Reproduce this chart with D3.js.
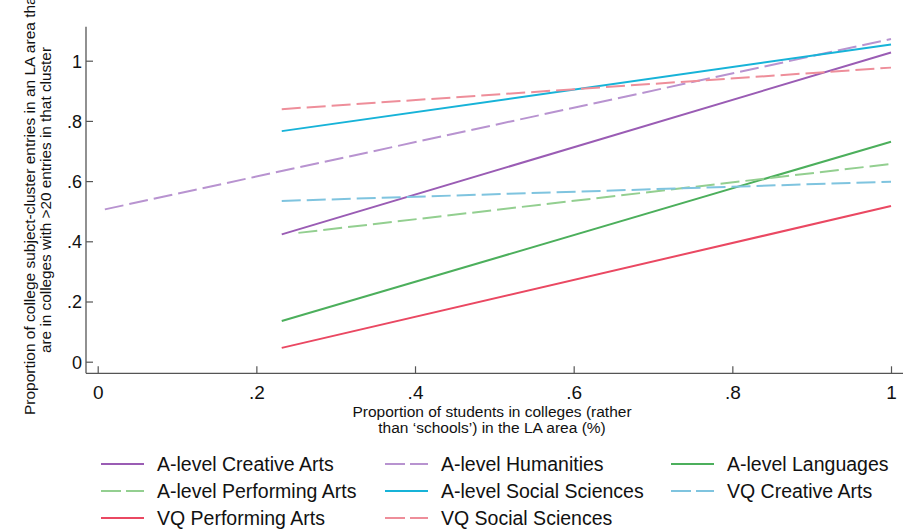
<!DOCTYPE html>
<html>
<head>
<meta charset="utf-8">
<script src="https://cdn.jsdelivr.net/npm/d3@7"></script>
<style>
  html, body { margin: 0; padding: 0; background: #fff; }
  svg { display: block; font-family: "Liberation Sans", Arial, sans-serif; }
</style>
</head>
<body>
<svg id="chart" width="914" height="531"></svg>
<script>
// Fitted lines: share of college subject-cluster entries by college share of students
const seriesNames = [
  "A-level Creative Arts", "A-level Humanities", "A-level Languages",
  "A-level Performing Arts", "A-level Social Sciences", "VQ Creative Arts",
  "VQ Performing Arts", "VQ Social Sciences"
];
const xStart = [0.232, 0.009, 0.232, 0.253, 0.232, 0.232, 0.232, 0.232];
const xEnd   = [1.0, 1.0, 1.0, 1.0, 1.0, 1.0, 1.0, 1.0];
const yStart = [0.423, 0.506, 0.135, 0.428, 0.766, 0.534, 0.046, 0.839];
const yEnd   = [1.027, 1.072, 0.731, 0.657, 1.054, 0.598, 0.517, 0.977];
const dashed = [false, true, false, true, false, true, false, true];
const colors = ["#9a5cb4", "#b893d0", "#4caf5c", "#93cf90", "#17b3d8", "#7fc4df", "#ea4862", "#ee8e9a"];

const xTicks = [0, 0.2, 0.4, 0.6, 0.8, 1];
const yTicks = [0, 0.2, 0.4, 0.6, 0.8, 1];
const tickFmt = v => v === 0 ? "0" : v === 1 ? "1" : String(v).replace(/^0/, "");

const svg = d3.select("#chart");

const x = d3.scaleLinear().domain([0, 1]).range([97.7, 891]);
const y = d3.scaleLinear().domain([0, 1]).range([361.7, 60.7]);

const axisColor = "#555";
const axLeft = 86, axBottom = 373.3, axRight = 903, axTop = 26.7;

// Axes with inward ticks
const xAxis = svg.append("g").attr("transform", `translate(0,${axBottom})`)
  .call(d3.axisBottom(x).tickValues(xTicks).tickFormat(tickFmt).tickSizeInner(-7).tickSizeOuter(0).tickPadding(12));
xAxis.select(".domain").remove();
xAxis.append("line").attr("x1", axLeft).attr("x2", axRight).attr("y1", 0).attr("y2", 0)
  .attr("stroke", axisColor).attr("stroke-width", 1.3);

const yAxis = svg.append("g").attr("transform", `translate(${axLeft},0)`)
  .call(d3.axisLeft(y).tickValues(yTicks).tickFormat(tickFmt).tickSizeInner(-7).tickSizeOuter(0).tickPadding(4));
yAxis.select(".domain").remove();
yAxis.append("line").attr("x1", 0).attr("x2", 0).attr("y1", axTop).attr("y2", axBottom)
  .attr("stroke", axisColor).attr("stroke-width", 1.3);

svg.selectAll(".tick line").attr("stroke", axisColor).attr("stroke-width", 1.2);
svg.selectAll(".tick text").attr("fill", "#111")
  .style("font-family", "'Liberation Sans', Arial, sans-serif");
xAxis.selectAll(".tick text").style("font-size", "19px");
yAxis.selectAll(".tick text").style("font-size", "18px").attr("dy", "0.36em");

// Fitted lines
const lineGen = d3.line().x(d => x(d[0])).y(d => y(d[1]));
const lines = seriesNames.map((name, i) => ({
  name, color: colors[i], dashed: dashed[i],
  pts: [[xStart[i], yStart[i]], [xEnd[i], yEnd[i]]]
}));
svg.append("g").selectAll("path").data(lines).join("path")
  .attr("d", d => lineGen(d.pts))
  .attr("fill", "none")
  .attr("stroke", d => d.color)
  .attr("stroke-width", 2)
  .attr("stroke-dasharray", d => d.dashed ? "19,6" : null);

// Axis titles (first y-title line runs past the top edge)
const yTitle = svg.append("text")
  .attr("transform", "rotate(-90)")
  .attr("text-anchor", "start")
  .attr("fill", "#111")
  .style("font-size", "15.5px");
yTitle.append("tspan").attr("x", -415).attr("y", 35)
  .text("Proportion of college subject-cluster entries in an LA area that");
yTitle.append("tspan").attr("x", -353).attr("y", 51)
  .attr("textLength", 306).attr("lengthAdjust", "spacingAndGlyphs")
  .text("are in colleges with >20 entries in that cluster");

const xTitle = svg.append("text")
  .attr("transform", "translate(492,417)")
  .attr("text-anchor", "middle")
  .attr("fill", "#111")
  .style("font-size", "15.5px");
xTitle.append("tspan").attr("x", 0).attr("dy", 0)
  .text("Proportion of students in colleges (rather");
xTitle.append("tspan").attr("x", 0).attr("dy", 16)
  .text("than \u2018schools\u2019) in the LA area (%)");

// Legend: three columns, three rows
const colX = [101, 385, 671];
const rowY = [464, 491, 518];
const legend = svg.append("g").selectAll("g").data(lines).join("g")
  .attr("transform", (d, i) => `translate(${colX[i % 3]},${rowY[Math.floor(i / 3)]})`);
legend.append("line")
  .attr("x1", 0).attr("x2", 43).attr("y1", 0).attr("y2", 0)
  .attr("stroke", d => d.color).attr("stroke-width", 2)
  .attr("stroke-dasharray", d => d.dashed ? "20,5" : null);
legend.append("text")
  .attr("x", 56).attr("y", 0).attr("dy", "0.36em")
  .attr("fill", "#111")
  .style("font-size", "19.5px")
  .text(d => d.name);
</script>
</body>
</html>
